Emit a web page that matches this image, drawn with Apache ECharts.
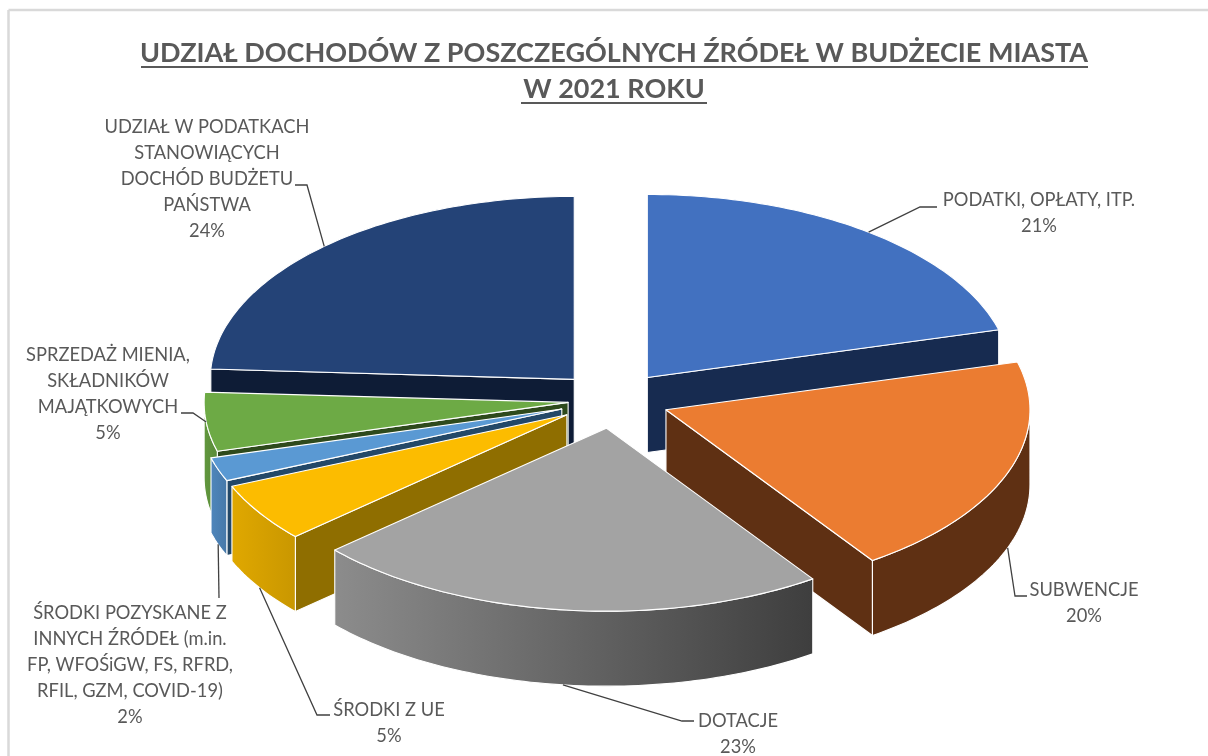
<!DOCTYPE html>
<html lang="pl">
<head>
<meta charset="utf-8">
<style>html,body{margin:0;padding:0;background:#fff}#c{width:1208px;height:756px}</style>
<script src="https://cdn.jsdelivr.net/npm/echarts@6/dist/echarts.min.js"></script>
</head>
<body>
<div id="c"></div>
<script>
// ---- data ----
var categories = [
  'PODATKI, OPŁATY, ITP.',
  'SUBWENCJE',
  'DOTACJE',
  'ŚRODKI Z UE',
  'ŚRODKI POZYSKANE Z\nINNYCH ŹRÓDEŁ (m.in.\nFP, WFOŚiGW, FS, RFRD,\nRFIL, GZM, COVID-19)',
  'SPRZEDAŻ MIENIA,\nSKŁADNIKÓW\nMAJĄTKOWYCH',
  'UDZIAŁ W PODATKACH\nSTANOWIĄCYCH\nDOCHÓD BUDŻETU\nPAŃSTWA'
];
var shares = [20.8, 19.6, 23.0, 5.2, 2.1, 5.2, 24.1];

// ---- look ----
var topColors    = ['#4271C0', '#EB7C31', '#A3A3A3', '#FCBC00', '#5A99D3', '#6DAA45', '#244377'];
var edgeColors   = ['#172B50', '#5F3013', '#404040', '#8F6E00', '#234868', '#2E4A1C', '#0E1C36'];
var wallLeft     = ['#172B50', '#5F3013', '#8C8C8C', '#E0A800', '#4F86BC', '#62983E', '#0E1C36'];
var wallRight    = ['#172B50', '#5F3013', '#3E3E3E', '#C99700', '#4678A8', '#588A38', '#0E1C36'];
var paintRank    = [1, 5, 6, 4, 3, 2, 0];
var explodeBy    = [0.155, 0.155, 0.155, 0.15, 0.149, 0.124, 0.155];

// ---- layout of the tilted pie ----
var CX = 613, CY = 400, RX = 364, RY = 183, DEPTH = 75;
var labelCentres = [[1039, 213], [1084, 603], [738, 734], [389, 723], [130, 665], [108, 394], [207, 179]];
var leaderBends  = [
  [[920, 207], [937, 207]],
  [[1015, 596], [1027, 596]],
  [[682, 721], [694, 721]],
  [[317, 715], [330, 715]],
  [[219, 598]],
  [[193, 413], [181, 413]],
  [[307, 185], [295, 185]]
];
var FONT = 'Lato, "Noto Sans", sans-serif';

var total = shares.reduce(function (a, b) { return a + b; }, 0);
function toAngle(v) { return v / total * Math.PI * 2; }
function arcPoints(ax, ay, a0, a1, dy) {
  var pts = [], n = Math.max(2, Math.ceil((a1 - a0) / 0.02));
  for (var i = 0; i <= n; i++) {
    var t = a0 + (a1 - a0) * i / n;
    pts.push([ax + RX * Math.sin(t), ay - RY * Math.cos(t) + dy]);
  }
  return pts;
}

function renderItem(params, api) {
  var i = params.dataIndex, value = api.value(1);
  var before = 0;
  for (var k = 0; k < i; k++) before += shares[k];
  var a0 = toAngle(before), a1 = a0 + toAngle(value), mid = (a0 + a1) / 2;
  var e = explodeBy[i];
  var ax = CX + RX * e * Math.sin(mid), ay = CY - RY * e * Math.cos(mid);
  var rank = paintRank[i] * 10, kids = [];
  var line = { stroke: '#fff', lineWidth: 1.1, lineJoin: 'round' };

  var top = arcPoints(ax, ay, a0, a1, 0);
  var first = top[0], last = top[top.length - 1], q = top[Math.floor(top.length / 2)];

  // radial cut faces that look towards the viewer
  [first, last].forEach(function (p) {
    var ex = p[0] - ax, ey = p[1] - ay;
    var cross = ex * (q[1] - ay) - ey * (q[0] - ax);
    if (Math.abs(ex) > 1 && cross * ex < 0) {
      kids.push({
        type: 'polygon', z2: rank + 1,
        shape: { points: [[ax, ay], p, [p[0], p[1] + DEPTH], [ax, ay + DEPTH]] },
        style: Object.assign({ fill: edgeColors[i] }, line)
      });
    }
  });

  // rim: only the part on the near half of the ellipse
  var w0 = Math.max(a0, Math.PI / 2), w1 = Math.min(a1, Math.PI * 1.5);
  if (w1 > w0) {
    var upper = arcPoints(ax, ay, w0, w1, 0);
    var lower = arcPoints(ax, ay, w0, w1, DEPTH).reverse();
    kids.push({
      type: 'polygon', z2: rank + 2,
      shape: { points: upper.concat(lower) },
      style: Object.assign({
        fill: { type: 'linear', x: 0, y: 0, x2: 1, y2: 0, colorStops: [
          { offset: 0, color: wallLeft[i] }, { offset: 1, color: wallRight[i] }
        ] }
      }, line)
    });
  }

  // top face
  kids.push({
    type: 'polygon', z2: rank + 3,
    shape: { points: [[ax, ay]].concat(top) },
    style: Object.assign({ fill: topColors[i] }, line)
  });

  // leader line from the slice's mid-arc to its label
  var mx = ax + RX * Math.sin(mid), my = ay - RY * Math.cos(mid);
  if (Math.cos(mid) < -0.2) my += DEPTH;
  kids.push({
    type: 'polyline', z2: 200,
    shape: { points: [[mx, my]].concat(leaderBends[i]) },
    style: { stroke: '#404040', lineWidth: 1.3, fill: null }
  });

  // label: category + share
  kids.push({
    type: 'text', z2: 210,
    style: {
      text: categories[i] + '\n' + Math.round(value / total * 100) + '%',
      x: labelCentres[i][0], y: labelCentres[i][1],
      align: 'center', verticalAlign: 'middle',
      font: '18.3px ' + FONT, lineHeight: 26, fill: '#595959'
    }
  });
  return { type: 'group', children: kids };
}

var chart = echarts.init(document.getElementById('c'), null, { renderer: 'canvas' });
chart.setOption({
  animation: false,
  backgroundColor: '#fff',
  title: {
    text: 'UDZIAŁ DOCHODÓW Z POSZCZEGÓLNYCH ŹRÓDEŁ W BUDŻECIE MIASTA\nW 2021 ROKU',
    left: 614, top: 35, textAlign: 'center', padding: 0,
    textStyle: { fontFamily: FONT, fontWeight: 'bold', fontSize: 27, lineHeight: 36, color: '#595959' }
  },
  xAxis: { show: false }, yAxis: { show: false },
  series: [{
    type: 'custom',
    coordinateSystem: 'none',
    data: shares.map(function (v, i) { return { name: categories[i], value: [i, v] }; }),
    renderItem: renderItem,
    silent: true
  }],
  graphic: [
    { type: 'line', shape: { x1: 8.5, y1: 10, x2: 1208, y2: 10 }, style: { stroke: '#D9D9D9', lineWidth: 2.5 } },
    { type: 'line', shape: { x1: 8.5, y1: 10, x2: 8.5, y2: 756 }, style: { stroke: '#D9D9D9', lineWidth: 2.5 } },
    { type: 'line', shape: { x1: 141, y1: 67, x2: 1088, y2: 67 }, style: { stroke: '#595959', lineWidth: 2 } },
    { type: 'line', shape: { x1: 521, y1: 103, x2: 707, y2: 103 }, style: { stroke: '#595959', lineWidth: 2 } }
  ]
});
</script>
</body>
</html>
